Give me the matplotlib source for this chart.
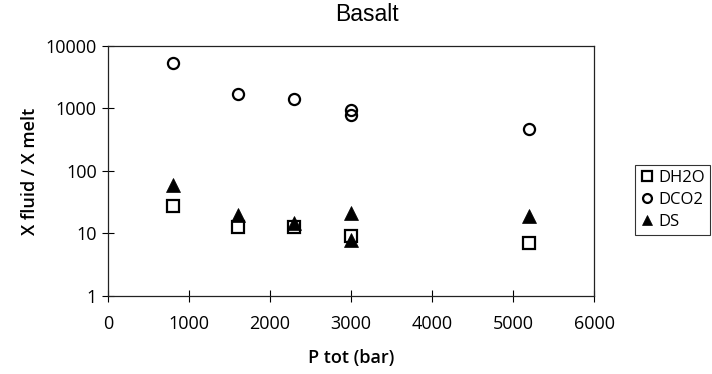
import matplotlib.pyplot as plt
from matplotlib.ticker import FixedLocator, NullLocator

# partition coefficients vs total pressure, basalt
p_h2o = [800, 1600, 2300, 3000, 5200]
d_h2o = [28, 12.5, 12.7, 9, 7.1]

p_co2 = [800, 1600, 2300, 3000, 3000, 5200]
d_co2 = [5400, 1730, 1440, 940, 800, 470]

p_s = [800, 1600, 2300, 3000, 3000, 5200]
d_s = [60, 20, 14.7, 21, 8, 19]

xticks = [0, 1000, 2000, 3000, 4000, 5000, 6000]
yticks = [1, 10, 100, 1000, 10000]

tick_font = "Open Sans"
fig = plt.figure(figsize=(7.12, 3.74), dpi=100)
ax = fig.add_axes([0.1517, 0.2086, 0.6826, 0.6684])

ax.plot(p_h2o, d_h2o, ls="none", marker="s", ms=9, mfc="none", mec="black", mew=1.6, label="DH2O", zorder=3)
ax.plot(p_co2, d_co2, ls="none", marker="o", ms=8, mfc="none", mec="black", mew=1.6, label="DCO2", zorder=4)
ax.plot(p_s, d_s, ls="none", marker="^", ms=9.5, mfc="black", mec="black", mew=0.5, label="DS", zorder=5)

ax.set_yscale("log")
ax.set_xlim(0, 6000)
ax.set_ylim(1, 10000)
ax.xaxis.set_major_locator(FixedLocator(xticks))
ax.yaxis.set_major_locator(FixedLocator(yticks))
ax.yaxis.set_minor_locator(NullLocator())
ax.set_xticklabels([str(v) for v in xticks], fontsize=13, family=tick_font)
ax.set_yticklabels([str(v) for v in yticks], fontsize=13, family=tick_font)
ax.tick_params(axis="both", direction="inout", length=8, width=0.8, colors="black", pad=4)
ax.tick_params(axis="x", pad=10)
for s in ax.spines.values():
    s.set_linewidth(0.9)
    s.set_color("#222222")

ax.set_xlabel("P tot (bar)", fontsize=13, family=tick_font, weight="semibold", labelpad=11)
ax.set_ylabel("X fluid / X melt", fontsize=13, family=tick_font, weight="semibold", labelpad=5)
fig.text(0.515, 0.96, "Basalt", ha="center", va="center", fontsize=16.5, family="Liberation Sans")

leg = fig.legend(loc="upper left", bbox_to_anchor=(635 / 712, 1 - 165 / 374), bbox_transform=fig.transFigure,
                 frameon=True, fancybox=False, edgecolor="black", prop={"family": tick_font, "size": 12},
                 handlelength=0.8, handletextpad=0.3, borderpad=0.3, labelspacing=0.35, borderaxespad=0,
                 markerscale=0.8)
leg.get_frame().set_linewidth(0.8)

fig.savefig("out.png", dpi=100)
